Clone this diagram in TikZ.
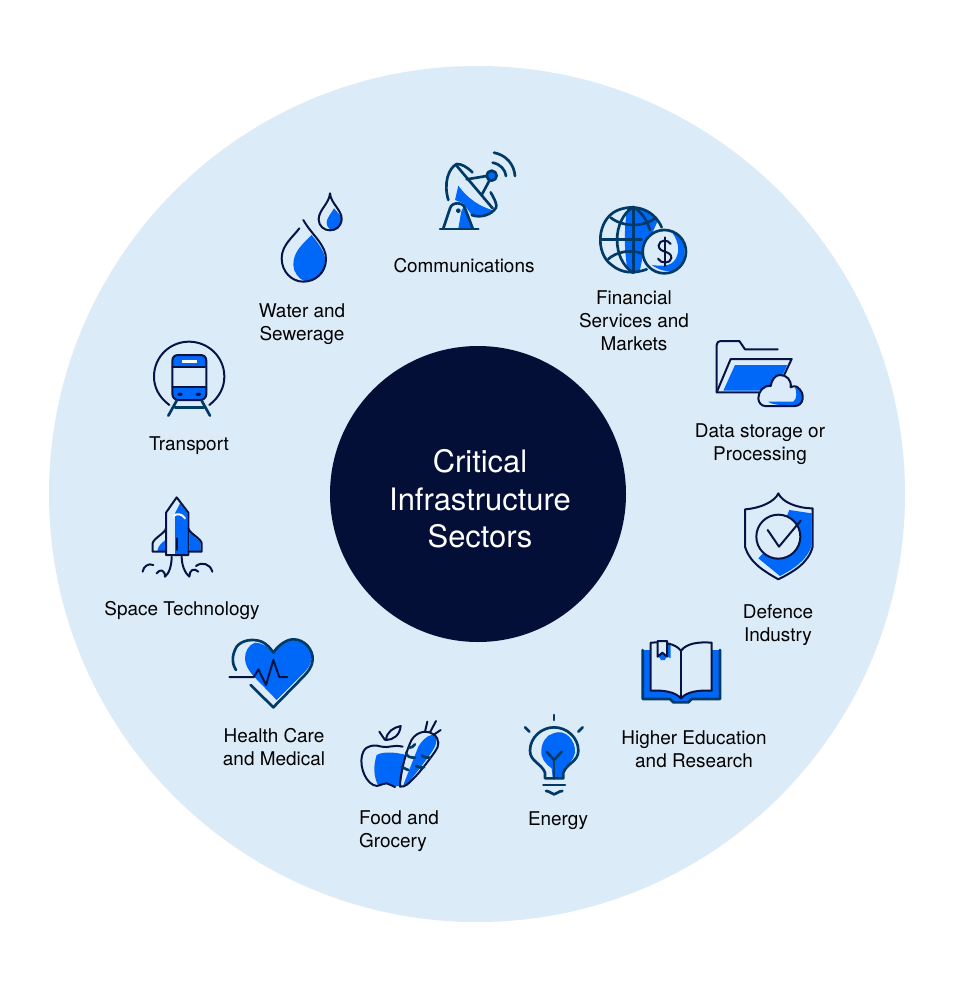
\documentclass[tikz,border=0pt]{standalone}
\usepackage{fontspec}
\setmainfont{TeX Gyre Heros}
\definecolor{pale}{HTML}{DCEBF8}
\definecolor{core}{HTML}{040F37}
\definecolor{blu}{HTML}{0068F9}
\definecolor{nav}{HTML}{061445}
\definecolor{teal}{HTML}{003A66}
\tikzset{
  lab/.style={font=\fontsize{14.2pt}{17.25pt}\selectfont, text=black, align=center, inner sep=0pt},
  zs/.style={x=.25pt,y=-.25pt, line cap=round, line join=round},
  thn/.style={draw=nav, line width=1.5pt},
  thk/.style={draw=teal, line width=2pt},
  blf/.style={fill=blu, draw=none},
  pal/.style={fill=pale, draw=none},
}
\begin{document}
\begin{tikzpicture}[x=.75pt,y=-.75pt]
\useasboundingbox (0,0) rectangle (957,992);
\fill[white] (0,0) rectangle (957,992);
\fill[pale] (477,494) circle (428);
\node[circle, fill=core, minimum size=222pt, inner sep=0pt] (core) at (478,494) {};
\node[lab, text=white, font=\fontsize{23.2pt}{28pt}\selectfont] (title) at (480,499) {Critical\\Infrastructure\\Sectors};

\node[lab] (comm) at (464,266) {Communications};
\node[lab] (fin) at (634,321) {Financial\\Services and\\Markets};
\node[lab] (data) at (760,444) {Data storage or\\Processing};
\node[lab] (def) at (778,625) {Defence\\Industry};
\node[lab] (edu) at (694,749.5) {Higher Education\\and Research};
\node[lab] (ene) at (558,821) {Energy};
\node[lab, align=left] (food) at (399,831) {Food and\\Grocery};
\node[lab] (hea) at (274,747.5) {Health Care\\and Medical};
\node[lab] (spa) at (182,610) {Space Technology};
\node[lab] (tra) at (189,446) {Transport};
\node[lab] (wat) at (302,324) {Water and\\Sewerage};

% satellite and globe
\begin{scope}[shift={(420,140)},zs]
  \fill[blf] (115,137) .. controls (145,178) and (180,200) .. (222,212) .. controls (205,230) and (175,232) .. (155,225) -- (130,190) -- (105,180) -- cycle;
  \fill[pale] (70,265) -- (90,205) .. controls (95,185) and (130,185) .. (135,205) -- (158,265) -- cycle;
  \fill[blf] (115,265) -- (122,225) .. controls (125,205) and (130,200) .. (135,205) -- (158,265) -- cycle;
  \draw[thk] (157,97) .. controls (140,80) and (125,72) .. (110,72) .. controls (85,85) and (70,130) .. (85,180);
  \draw[thk] (108,75) -- (218,205);
  \draw[thk] (212,157) .. controls (225,180) and (232,195) .. (228,203) .. controls (215,225) and (180,235) .. (155,225);
  \draw[thk] (70,265) -- (90,205) .. controls (95,185) and (130,185) .. (135,205) -- (158,265);
  \draw[thk] (60,267) -- (175,267);
  \fill[teal] (115,212) circle (7);
  \draw[thk] (140,118) -- (200,108);
  \draw[thk] (185,165) -- (208,122);
  \fill[blf] (215,107) circle (15);
  \draw[thk] (215,107) circle (15);
  \draw[thk] (218,68) .. controls (240,72) and (256,88) .. (258,108);
  \draw[thk] (222,38) .. controls (258,45) and (282,72) .. (285,108);
  % globe
  \fill[blf] (622,205) .. controls (660,195) and (700,215) .. (712,245) -- (670,340) -- (660,390) .. controls (645,398) and (630,395) .. (622,385) .. controls (612,330) and (612,260) .. (622,205) -- cycle;
  \draw[thk] (725,262) .. controls (700,205) and (640,190) .. (590,212) .. controls (530,240) and (525,340) .. (575,375) .. controls (605,400) and (640,402) .. (680,388);
  \draw[thk] (640,201) -- (640,398);
  \draw[thk] (640,201) .. controls (575,240) and (575,360) .. (640,398);
  \draw[thk] (640,201) .. controls (670,220) and (682,245) .. (690,270);
  \draw[thk] (572,233) .. controls (610,262) and (670,262) .. (708,233);
  \draw[thk] (565,357) .. controls (590,335) and (630,328) .. (665,340);
  \draw[thk] (545,298) -- (665,298);
  \fill[pale] (733,335) circle (65);
  \fill[blf] (752,272) .. controls (795,285) and (810,350) .. (772,388) .. controls (760,395) and (730,400) .. (695,375) .. controls (735,380) and (762,378) .. (772,345) .. controls (780,320) and (768,290) .. (752,272) -- cycle;
  \draw[thk] (733,335) circle (65);
  \draw[thn] (752,312) .. controls (745,298) and (718,298) .. (716,316) .. controls (715,340) and (755,330) .. (754,354) .. controls (752,372) and (722,372) .. (714,356);
  \draw[thn] (735,292) -- (735,378);
\end{scope}

% water and train
\begin{scope}[shift={(130,180)},zs]
  \fill[blf] (545,165) .. controls (515,195) and (490,215) .. (490,255) .. controls (490,275) and (505,295) .. (522,303) .. controls (560,305) and (585,275) .. (585,240) .. controls (585,215) and (565,190) .. (545,165) -- cycle;
  \draw[thn] (520,120) .. controls (545,165) and (590,195) .. (588,240) .. controls (586,280) and (555,305) .. (520,305) .. controls (485,305) and (455,275) .. (455,235) .. controls (455,195) and (490,170) .. (508,145);
  \fill[blf] (612,85) .. controls (600,105) and (590,115) .. (590,128) .. controls (590,140) and (598,148) .. (606,150) .. controls (625,148) and (635,130) .. (634,115) .. controls (632,105) and (620,95) .. (612,85) -- cycle;
  \draw[thn] (600,40) .. controls (602,70) and (636,90) .. (635,118) .. controls (633,140) and (618,151) .. (600,151) .. controls (582,151) and (566,138) .. (566,118) .. controls (566,90) and (598,70) .. (600,40) -- cycle;
  % train
  \fill[blf] (127,562) -- (127,543) .. controls (127,530) and (135,525) .. (145,525) -- (211,525) .. controls (221,525) and (229,530) .. (229,543) -- (229,562) -- cycle;
  \fill[blf] (127,620) -- (229,620) -- (229,642) .. controls (229,652) and (221,660) .. (211,660) -- (145,660) .. controls (135,660) and (127,652) .. (127,642) -- cycle;
  \fill[white] (156,539) rectangle (200,548);
  \fill[nav] (150,643) ellipse (8 and 5);
  \fill[nav] (205,643) ellipse (8 and 5);
  \draw[thn] (145,525) -- (211,525) .. controls (221,525) and (229,530) .. (229,543) -- (229,642) .. controls (229,652) and (221,660) .. (211,660) -- (145,660) .. controls (135,660) and (127,652) .. (127,642) -- (127,543) .. controls (127,530) and (135,525) .. (145,525) -- cycle;
  \draw[thn] (127,560) -- (225,560);
  \draw[thn] (127,620) -- (225,620);
  \draw[thn] (118,675) .. controls (85,650) and (72,620) .. (72,590) .. controls (72,530) and (120,485) .. (177,485) .. controls (234,485) and (283,530) .. (283,590) .. controls (283,620) and (270,650) .. (238,675);
  \draw[thk] (140,662) -- (115,707);
  \draw[thk] (215,662) -- (240,707);
  \draw[thk] (135,683) -- (222,683);
\end{scope}

% folder and shield
\begin{scope}[shift={(700,330)},zs]
  \fill[blf] (70,182) -- (105,105) -- (262,105) -- (240,150) -- (180,182) -- cycle;
  \draw[thn] (233,58) -- (135,58) -- (118,33) -- (62,33) .. controls (55,33) and (50,38) .. (50,45) -- (50,187) -- (175,187);
  \draw[thn] (50,187) -- (92,87) -- (275,87) -- (250,140);
  \fill[pale] (195,228) -- (285,228) .. controls (310,228) and (320,190) .. (290,170) .. controls (280,168) and (275,170) .. (272,172) .. controls (275,150) and (260,135) .. (240,135) .. controls (225,135) and (215,150) .. (212,168) .. controls (190,165) and (175,185) .. (175,205) .. controls (175,218) and (185,228) .. (195,228) -- cycle;
  \fill[blf] (205,215) -- (280,215) .. controls (292,205) and (290,185) .. (285,172) .. controls (305,180) and (315,205) .. (300,222) .. controls (290,229) and (215,228) .. (205,215) -- cycle;
  \draw[thn] (195,228) -- (285,228) .. controls (310,228) and (320,190) .. (290,170) .. controls (280,168) and (275,170) .. (272,172) .. controls (275,150) and (260,135) .. (240,135) .. controls (225,135) and (215,150) .. (212,168) .. controls (190,165) and (175,185) .. (175,205) .. controls (175,218) and (185,228) .. (195,228) -- cycle;
  % shield
  \fill[blf] (268,540) -- (335,550) -- (335,648) .. controls (320,690) and (285,715) .. (240,738) -- (175,685) -- (235,620) -- cycle;
  \fill[pale] (235,620) circle (66);
  \draw[thn] (235,490) .. controls (225,515) and (180,535) .. (135,538) -- (135,650) .. controls (150,700) and (195,725) .. (235,748) .. controls (280,725) and (325,700) .. (338,650) -- (338,535) .. controls (290,535) and (245,515) .. (235,490) -- cycle;
  \draw[thn] (235,620) circle (66);
  \draw[thn] (203,600) -- (237,650) -- (302,572);
\end{scope}

% book and bulb
\begin{scope}[shift={(500,630)},zs]
  \fill[blf] (428,60) -- (428,207) -- (510,207) -- (520,217) -- (565,217) -- (575,207) -- (660,207) -- (660,60) -- cycle;
  \draw[thk] (428,60) -- (428,207) -- (510,207) -- (520,217) -- (565,217) -- (575,207) -- (660,207) -- (660,60);
  \fill[pale] (452,38) .. controls (490,35) and (525,40) .. (543,62) .. controls (560,40) and (595,35) .. (635,38) -- (635,182) .. controls (595,180) and (560,185) .. (543,205) .. controls (525,185) and (490,180) .. (452,182) -- cycle;
  \fill[blf] (473,38) -- (512,42) -- (512,85) -- (500,78) -- (495,90) -- (483,90) -- (473,75) -- cycle;
  \draw[thn] (452,38) .. controls (490,35) and (525,40) .. (543,62) .. controls (560,40) and (595,35) .. (635,38) -- (635,182) .. controls (595,180) and (560,185) .. (543,205) .. controls (525,185) and (490,180) .. (452,182) -- cycle;
  \draw[thn] (543,62) -- (543,205);
  \draw[thn, fill=pale] (473,33) -- (501,33) -- (501,80) -- (487,68) -- (473,80) -- cycle;
  % bulb
  \fill[blf] (160,310) .. controls (195,295) and (228,330) .. (225,368) .. controls (222,390) and (200,405) .. (192,425) -- (188,443) -- (158,443) -- (155,415) .. controls (135,400) and (122,385) .. (124,360) .. controls (126,335) and (140,315) .. (160,310) -- cycle;
  \draw[thk] (135,445) -- (135,428) .. controls (125,400) and (90,395) .. (90,362) .. controls (90,322) and (125,292) .. (162,292) .. controls (200,292) and (235,322) .. (235,362) .. controls (235,395) and (200,400) .. (190,428) -- (190,445) -- cycle;
  \draw[thk] (140,365) -- (162,390) -- (185,365);
  \draw[thk] (162,390) -- (162,445);
  \draw[thk] (130,465) -- (195,465);
  \draw[thk] (138,483) .. controls (150,483) and (155,493) .. (162,493) .. controls (170,493) and (175,483) .. (187,483);
  \draw[thk] (162,255) -- (162,270);
  \draw[thk] (75,292) -- (88,305);
  \draw[thk] (248,292) -- (235,305);
\end{scope}

% rocket and heart
\begin{scope}[shift={(130,490)},zs]
  \fill[blf] (150,40) -- (172,70) -- (172,192) -- (135,192) -- (135,70) -- cycle;
  \fill[blf] (178,120) .. controls (185,140) and (212,150) .. (212,160) -- (212,183) -- (178,183) -- cycle;
  \fill[blf] (82,183) .. controls (85,165) and (95,160) .. (106,150) -- (106,183) -- cycle;
  \draw[white, line width=1.5pt] (130,78) .. controls (140,70) and (155,70) .. (165,85);
  \draw[thn] (140,22) -- (175,68) -- (175,195) -- (108,195) -- (108,68) -- cycle;
  \draw[thn] (108,115) .. controls (105,130) and (70,145) .. (68,160) -- (68,185) -- (108,185);
  \draw[thn] (175,115) .. controls (178,130) and (213,145) .. (215,160) -- (215,185) -- (175,185);
  \draw[thn] (142,145) -- (142,180);
  \draw[thn] (125,200) .. controls (125,225) and (118,250) .. (105,260) .. controls (105,240) and (90,235) .. (80,250);
  \draw[thn] (70,225) .. controls (55,218) and (40,230) .. (38,245);
  \draw[thn] (155,200) .. controls (155,225) and (165,250) .. (178,260) .. controls (178,240) and (192,232) .. (205,245);
  \draw[thn] (198,228) .. controls (215,215) and (240,220) .. (247,245);
  % heart
  \fill[blf] (375,458) .. controls (395,458) and (415,470) .. (430,490) .. controls (445,470) and (465,452) .. (490,452) .. controls (525,452) and (548,480) .. (545,505) .. controls (543,525) and (530,540) .. (520,550) -- (440,630) -- (372,560) .. controls (355,540) and (345,525) .. (345,505) .. controls (345,485) and (355,465) .. (375,458) -- cycle;
  \draw[thk] (318,540) .. controls (305,520) and (305,495) .. (320,470) .. controls (335,450) and (370,445) .. (395,455) .. controls (410,462) and (422,475) .. (430,488) .. controls (445,465) and (470,448) .. (490,448) .. controls (525,448) and (550,480) .. (548,510) .. controls (546,530) and (535,545) .. (520,560) -- (430,652) -- (362,585);
  \draw[thn] (298,561) -- (372,561) -- (385,538) -- (408,585) -- (430,510) -- (448,561) -- (472,561);
\end{scope}

% apple and carrot
\begin{scope}[shift={(350,715)},zs]
  \fill[blf] (80,120) .. controls (100,108) and (140,112) .. (168,120) -- (150,212) -- (135,215) .. controls (120,205) and (100,205) .. (85,212) .. controls (70,185) and (70,150) .. (80,120) -- cycle;
  \fill[blf] (245,60) .. controls (255,62) and (262,72) .. (258,85) .. controls (255,105) and (215,150) .. (175,205) -- (160,210) -- (205,95) .. controls (215,78) and (230,62) .. (245,60) -- cycle;
  \draw[thn] (158,95) .. controls (130,88) and (115,100) .. (95,95) .. controls (75,88) and (50,90) .. (40,110) .. controls (25,140) and (40,195) .. (70,210) .. controls (85,218) and (95,205) .. (110,205) .. controls (120,205) and (125,215) .. (135,216);
  \draw[thn] (108,75) .. controls (110,50) and (130,38) .. (152,33) .. controls (150,60) and (130,75) .. (108,75) -- cycle;
  \draw[thn] (88,50) -- (105,75);
  \draw[thn] (150,215) .. controls (150,180) and (165,120) .. (180,85) .. controls (190,55) and (225,40) .. (250,58) .. controls (270,70) and (268,95) .. (255,110) .. controls (230,145) and (200,185) .. (172,208) .. controls (165,213) and (158,216) .. (150,215) -- cycle;
  \draw[thk] (178,98) .. controls (185,98) and (190,95) .. (195,88);
  \draw[thk] (168,113) .. controls (170,125) and (180,128) .. (195,128);
  \draw[thk] (155,155) .. controls (162,158) and (170,165) .. (175,165);
  \draw[thk] (215,122) .. controls (225,128) and (232,128) .. (240,128);
  \draw[thk] (198,153) .. controls (205,158) and (215,158) .. (222,157);
  \draw[thn] (225,50) -- (232,20);
  \draw[thn] (240,52) -- (258,18);
  \draw[thn] (250,60) -- (272,45);
\end{scope}
\end{tikzpicture}
\end{document}
